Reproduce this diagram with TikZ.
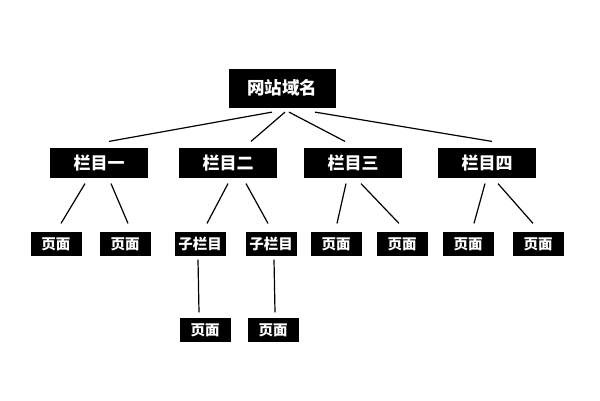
\documentclass[tikz,border=0pt]{standalone}
\usepackage{fontspec}
\newfontfamily\cjk{Noto Sans CJK SC}

\begin{document}
\begin{tikzpicture}[x=1pt,y=-1pt,line width=1.2pt,
        blk/.style={fill=black,text=white,inner sep=0pt},
        topbox/.style={blk,minimum width=107pt,minimum height=39pt,font=\cjk\bfseries\fontsize{17.5}{18}\selectfont},
        colbox/.style={blk,minimum width=98pt,minimum height=30pt,font=\cjk\bfseries\fontsize{17}{18}\selectfont},
        pagebox/.style={blk,minimum width=51pt,minimum height=24pt,font=\cjk\bfseries\fontsize{14.5}{15}\selectfont}]
        \useasboundingbox[fill=white] (0,0) rectangle (600,400);
        \node[topbox] (site) at (282,88) {网站域名};
        \foreach[count=\i] \x/\t in {99/栏目一,228/栏目二,353/栏目三,487/栏目四}{
            \node[colbox] (c\i) at (\x,163) {\t};
        }
        \foreach[count=\i] \x/\t in {56/页面,125/页面,200/子栏目,271/子栏目,336/页面,402/页面,468/页面,538/页面}{
            \node[pagebox] (n\i) at (\x,244) {\t};
        }
        \node[pagebox] (m1) at (205,330) {页面};
        \node[pagebox] (m2) at (273,330) {页面};
        % site to columns
        \foreach \a/\b/\u/\v in {site/c1/-10/10,site/c2/3/23,site/c3/7/-8,site/c4/33/5}{
            \draw ([xshift=\u pt,yshift=-4pt]\a.south) -- ([xshift=\v pt,yshift=6pt]\b.north);
        }
        % columns to pages
        \foreach \a/\b/\u/\v in {c1/n1/-14/5,c1/n2/12/3,c2/n3/0/7,c2/n4/18/-3,c3/n5/-7/1,c3/n6/8/-3,c4/n7/-2/6,c4/n8/11/-5}{
            \draw ([xshift=\u pt,yshift=-5pt]\a.south) -- ([xshift=\v pt,yshift=8pt]\b.north);
        }
        \foreach \a/\b/\u/\v in {n3/m1/-2/-6,n4/m2/3/2}{
            \draw ([xshift=\u pt,yshift=-3pt]\a.south) -- ([xshift=\v pt,yshift=5pt]\b.north);
        }
    \end{tikzpicture}
\end{document}
